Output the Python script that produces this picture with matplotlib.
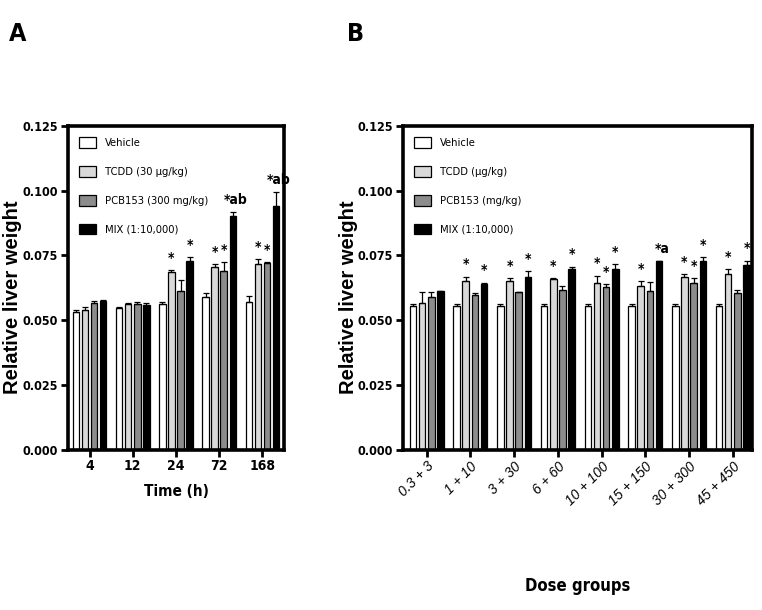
import numpy as np
import matplotlib
matplotlib.use("Agg")
import matplotlib.pyplot as plt

WIDE = ["Liberation Sans", "DejaVu Sans"]
COND = dict(family="DejaVu Sans", stretch="condensed")

# Panel A: time course
time_labels = ["4", "12", "24", "72", "168"]
a_vehicle = [0.0532, 0.0546, 0.0561, 0.0588, 0.0571]
a_tcdd = [0.0539, 0.0562, 0.0685, 0.0704, 0.0717]
a_pcb = [0.0567, 0.0562, 0.0612, 0.0691, 0.0720]
a_mix = [0.0574, 0.0560, 0.0728, 0.0902, 0.0942]
a_vehicle_err = [0.0008, 0.0005, 0.0008, 0.0018, 0.0023]
a_tcdd_err = [0.0010, 0.0005, 0.0008, 0.0013, 0.0018]
a_pcb_err = [0.0006, 0.0008, 0.0043, 0.0032, 0.0004]
a_mix_err = [0.0004, 0.0005, 0.0017, 0.0017, 0.0052]
a_marks = [["", "", "", ""],
           ["", "", "", ""],
           ["", "*", "", "*"],
           ["", "*", "*", "*ab"],
           ["", "*", "*", "*ab"]]

# Panel B: dose groups
dose_labels = ["0.3 + 3", "1 + 10", "3 + 30", "6 + 60", "10 + 100",
               "15 + 150", "30 + 300", "45 + 450"]
b_vehicle = [0.0554] * 8
b_tcdd = [0.0567, 0.0650, 0.0650, 0.0658, 0.0645, 0.0633, 0.0668, 0.0678]
b_pcb = [0.0588, 0.0597, 0.0607, 0.0616, 0.0629, 0.0612, 0.0645, 0.0605]
b_mix = [0.0611, 0.0639, 0.0668, 0.0696, 0.0696, 0.0728, 0.0730, 0.0714]
b_vehicle_err = [0.0010] * 8
b_tcdd_err = [0.0040, 0.0018, 0.0013, 0.0003, 0.0027, 0.0018, 0.0009, 0.0018]
b_pcb_err = [0.0022, 0.0009, 0.0003, 0.0017, 0.0011, 0.0034, 0.0016, 0.0010]
b_mix_err = [0.0000, 0.0006, 0.0023, 0.0011, 0.0021, 0.0000, 0.0015, 0.0016]
b_marks = [["", "", "", ""],
           ["", "*", "", "*"],
           ["", "*", "", "*"],
           ["", "*", "", "*"],
           ["", "*", "*", "*"],
           ["", "*", "", "*a"],
           ["", "*", "*", "*"],
           ["", "*", "", "*"]]

colors = ["white", "#d9d9d9", "#8c8c8c", "black"]
a_legend = ["Vehicle", "TCDD (30 \u00b5g/kg)", "PCB153 (300 mg/kg)", "MIX (1:10,000)"]
b_legend = ["Vehicle", "TCDD (\u00b5g/kg)", "PCB153 (mg/kg)", "MIX (1:10,000)"]

fig = plt.figure(figsize=(7.62, 6.10), dpi=100)
ax_a = fig.add_axes([0.0892, 0.2631, 0.2835, 0.5303])
ax_b = fig.add_axes([0.5289, 0.2631, 0.4580, 0.5303])


def draw_panel(ax, series, errs, marks, legend_labels, xlim, ylab_x):
    n = len(series[0])
    x = np.arange(n)
    pitch = 0.21
    width = 0.15
    for i, (vals, err) in enumerate(zip(series, errs)):
        pos = x + (i - 1.5) * pitch
        ax.bar(pos, vals, width=width, color=colors[i], edgecolor="black",
               linewidth=0.9, label=legend_labels[i], zorder=2)
        ax.errorbar(pos, vals, yerr=[np.zeros(n), err], fmt="none",
                    ecolor="black", elinewidth=0.9, capsize=2.2,
                    capthick=0.9, zorder=3)
        for j in range(n):
            m = marks[j][i]
            if m:
                ax.text(pos[j] + (0.06 if len(m) > 1 else 0),
                        vals[j] + err[j] + 0.002, m, ha="center",
                        va="bottom", fontsize=10, fontweight="bold", **COND)
    ax.set_xlim(*xlim)
    ax.set_ylim(0, 0.125)
    ax.set_yticks([0, 0.025, 0.05, 0.075, 0.1, 0.125])
    ax.set_yticklabels(["0.000", "0.025", "0.050", "0.075", "0.100", "0.125"],
                       fontsize=9, fontweight="bold", **COND)
    ax.set_xticks(x)
    for s in ax.spines.values():
        s.set_linewidth(2.6)
    ax.tick_params(axis="both", direction="out", length=5, width=2, pad=2)
    ax.set_ylabel("Relative liver weight", family=WIDE, fontsize=14.5,
                  fontweight="bold")
    ax.yaxis.set_label_coords(ylab_x, 0.47)
    ax.legend(loc="upper left", frameon=False,
              prop={"family": "DejaVu Sans", "stretch": "condensed", "size": 8},
              handlelength=1.5, handleheight=1.1, labelspacing=1.6,
              borderaxespad=0.6, handletextpad=0.8)


draw_panel(ax_a, [a_vehicle, a_tcdd, a_pcb, a_mix],
           [a_vehicle_err, a_tcdd_err, a_pcb_err, a_mix_err],
           a_marks, a_legend, (-0.5, 4.5), -0.212)
ax_a.set_xticklabels(time_labels, fontsize=10, fontweight="bold", **COND)
ax_a.set_xlabel("Time (h)", fontsize=11, fontweight="bold", labelpad=8, **COND)

draw_panel(ax_b, [b_vehicle, b_tcdd, b_pcb, b_mix],
           [b_vehicle_err, b_tcdd_err, b_pcb_err, b_mix_err],
           b_marks, b_legend, (-0.54, 7.44), -0.13)
ax_b.set_xticklabels(dose_labels, family=WIDE, fontsize=10, fontstyle="italic",
                     rotation=45, ha="right", rotation_mode="anchor")
ax_b.set_xlabel("Dose groups", fontsize=12, fontweight="bold", labelpad=50, **COND)

fig.text(0.012, 0.945, "A", fontsize=18, fontweight="bold", va="center", **COND)
fig.text(0.455, 0.945, "B", fontsize=18, fontweight="bold", va="center", **COND)

fig.savefig("out.png", dpi=100)
